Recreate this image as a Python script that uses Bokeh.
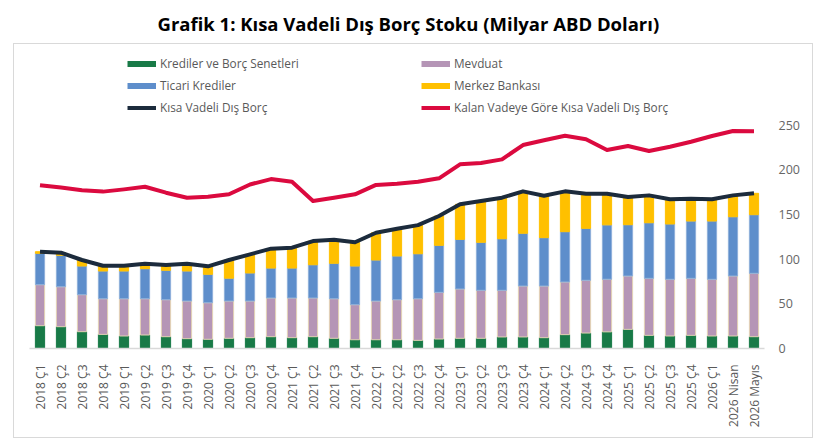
import math
from bokeh.plotting import figure
from bokeh.models import (FactorRange, Range1d, FixedTicker, Legend, LegendItem,
                          ColumnDataSource)
from bokeh.embed import file_html
from bokeh.resources import INLINE

categories = [
    "2018 Ç1", "2018 Ç2", "2018 Ç3", "2018 Ç4",
    "2019 Ç1", "2019 Ç2", "2019 Ç3", "2019 Ç4",
    "2020 Ç1", "2020 Ç2", "2020 Ç3", "2020 Ç4",
    "2021 Ç1", "2021 Ç2", "2021 Ç3", "2021 Ç4",
    "2022 Ç1", "2022 Ç2", "2022 Ç3", "2022 Ç4",
    "2023 Ç1", "2023 Ç2", "2023 Ç3", "2023 Ç4",
    "2024 Ç1", "2024 Ç2", "2024 Ç3", "2024 Ç4",
    "2025 Ç1", "2025 Ç2", "2025 Ç3", "2025 Ç4",
    "2026 Ç1", "2026 Nisan", "2026 Mayıs",
]
krediler = [25.5, 24.4, 18.8, 15.8, 14.0, 15.1, 13.2, 11.0, 10.3, 11.4, 12.1, 13.2,
            12.1, 13.2, 11.4, 9.8, 9.8, 9.8, 9.1, 10.6, 11.4, 11.4, 12.9, 12.9,
            12.1, 15.5, 17.3, 18.6, 21.4, 14.7, 14.0, 14.7, 14.0, 14.0, 13.2]
mevduat = [45.9, 44.7, 41.4, 39.9, 41.7, 40.6, 41.4, 42.1, 40.9, 41.7, 41.0, 43.3,
           44.4, 43.3, 44.3, 39.2, 43.3, 44.8, 46.6, 52.2, 55.2, 53.7, 52.2, 57.0,
           57.8, 58.9, 59.0, 58.9, 59.7, 63.8, 63.4, 63.8, 63.4, 67.1, 70.9]
ticari = [35.1, 35.1, 32.1, 31.0, 31.0, 33.6, 32.9, 33.6, 31.8, 25.6, 31.4, 33.5,
          33.5, 37.2, 39.6, 43.3, 45.9, 48.9, 50.3, 52.6, 55.5, 53.7, 57.7, 59.0,
          54.1, 56.3, 58.1, 60.8, 57.4, 62.2, 61.9, 64.1, 65.2, 66.3, 65.6]
merkez = [1.8, 3.0, 6.7, 5.9, 5.9, 5.6, 5.9, 8.2, 8.9, 20.3, 20.8, 21.7,
          22.8, 26.5, 26.4, 26.5, 30.5, 30.5, 32.0, 32.8, 39.2, 46.2, 45.9, 46.9,
          46.9, 45.1, 38.8, 34.9, 31.0, 30.6, 27.6, 25.0, 24.3, 23.9, 23.9]
kisa_vadeli = [108.3, 107.2, 99.0, 92.6, 92.6, 94.9, 93.4, 94.9, 91.9, 99.0, 105.3, 111.7,
               112.8, 120.2, 121.7, 118.8, 129.5, 134.0, 138.0, 148.2, 161.3, 165.0, 168.7, 175.8,
               170.9, 175.8, 173.2, 173.2, 169.5, 171.3, 166.9, 167.6, 166.9, 171.3, 173.6]
kalan_vade = [182.5, 180.0, 177.0, 175.5, 178.0, 181.0, 174.3, 168.7, 169.8, 172.5, 183.5, 189.5,
              186.5, 165.0, 168.7, 172.5, 183.0, 184.3, 186.5, 190.4, 206.0, 207.5, 211.6, 227.6,
              232.9, 238.0, 234.0, 222.0, 226.5, 220.9, 225.7, 231.3, 237.7, 243.3, 243.0]
y_ticks = [0, 50, 100, 150, 200, 250]

FONT = "Open Sans"
GREEN, MAUVE, BLUE, GOLD = "#187A47", "#B595B6", "#5E8ECB", "#FFC000"
NAVY, RED = "#1C2B3C", "#DB0A3F"

src = ColumnDataSource(dict(cat=categories, krediler=krediler, mevduat=mevduat,
                            ticari=ticari, merkez=merkez, kisa=kisa_vadeli, kalan=kalan_vade))

p = figure(x_range=FactorRange(factors=categories, range_padding=0),
           y_range=Range1d(0, 341.2),
           frame_width=735, frame_height=305,
           min_border_left=29, min_border_right=56, min_border_top=43, min_border_bottom=98,
           y_axis_location="right", output_backend="svg", toolbar_location=None,
           title="Grafik 1: Kısa Vadeli Dış Borç Stoku (Milyar ABD Doları)")

p.title.align = "left"
p.title.offset = 128
p.title.standoff = 16
p.title.text_font = FONT
p.title.text_font_style = "bold"
p.title.text_font_size = "18.5px"
p.title.text_color = "#000000"

p.vbar_stack(["krediler", "mevduat", "ticari", "merkez"], x="cat", width=0.44, source=src,
             fill_color=[GREEN, MAUVE, BLUE, GOLD],
             line_color=[GREEN, "#E3D2B4", "#8FB0DA", GOLD], line_width=1)
p.line(x="cat", y="kisa", source=src, line_color=NAVY, line_width=4, line_join="round")
p.line(x="cat", y="kalan", source=src, line_color=RED, line_width=4, line_join="round")

# legend proxies: drawn below the visible y range so only their legend glyphs show
proxy_x = categories[:2]
proxy_y = [-100, -100]

def proxy(color, width):
    return p.line(x=proxy_x, y=proxy_y, line_color=color, line_width=width, line_cap="butt")

r_kred, r_mev, r_tic, r_mer = proxy(GREEN, 6), proxy(MAUVE, 6), proxy(BLUE, 6), proxy(GOLD, 6)
r_kisa = proxy(NAVY, 4)
r_kalan = proxy(RED, 4)

def make_legend(items, loc):
    leg = Legend(items=[LegendItem(label=l, renderers=[r]) for l, r in items], location=loc,
                 orientation="vertical")
    leg.label_text_font = FONT
    leg.label_text_font_size = "11.8px"
    leg.label_text_color = "#595959"
    leg.glyph_width = 29
    leg.glyph_height = 15
    leg.label_height = 15
    leg.spacing = 6
    leg.padding = 0
    leg.margin = 0
    leg.label_standoff = 4
    leg.border_line_color = None
    leg.background_fill_alpha = 0
    return leg

p.add_layout(make_legend([("Krediler ve Borç Senetleri", r_kred), ("Ticari Krediler", r_tic),
                          ("Kısa Vadeli Dış Borç", r_kisa)], (98, 233)))
p.add_layout(make_legend([("Mevduat", r_mev), ("Merkez Bankası", r_mer),
                          ("Kalan Vadeye Göre Kısa Vadeli Dış Borç", r_kalan)], (392, 233)))

xa = p.xaxis[0]
xa.major_label_orientation = math.pi / 2
xa.axis_line_color = "#D9D9D9"
xa.axis_line_width = 1.5
xa.major_tick_line_color = None
xa.minor_tick_line_color = None
xa.major_label_standoff = 10
xa.major_label_text_font = FONT
xa.major_label_text_font_size = "12px"
xa.major_label_text_color = "#595959"

ya = p.yaxis[0]
ya.ticker = FixedTicker(ticks=y_ticks)
ya.axis_line_color = None
ya.major_tick_line_color = None
ya.minor_tick_line_color = None
ya.major_label_standoff = 8
ya.major_label_text_font = FONT
ya.major_label_text_font_size = "12.5px"
ya.major_label_text_color = "#666666"

p.xgrid.visible = False
p.ygrid.visible = False
p.outline_line_color = None
p.background_fill_color = None
p.border_fill_color = None

# light grey frame around legend, plot and axes (drawn as the figure's CSS background)
g = "linear-gradient(#D9D9D9, #D9D9D9)"
p.styles = {
    "background-color": "white",
    "background-image": ", ".join([g] * 4),
    "background-size": "800px 1px, 800px 1px, 1px 395px, 1px 395px",
    "background-position": "13px 43px, 13px 437px, 13px 43px, 812px 43px",
    "background-repeat": "no-repeat",
}

open("out.html", "w").write(file_html(p, INLINE))
